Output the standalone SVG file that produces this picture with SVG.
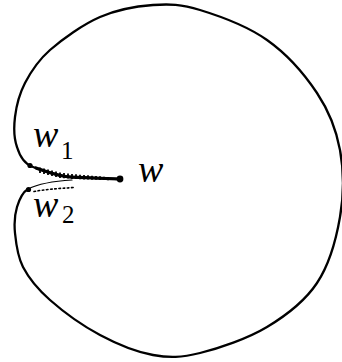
<svg xmlns="http://www.w3.org/2000/svg" width="342" height="362" viewBox="0 0 342 362">
<style>
.ln{fill:none;stroke:#000;stroke-linecap:round;stroke-linejoin:round}
.tick{fill:none;stroke:#000;stroke-width:1.8}
.lab{font-family:"Liberation Serif","DejaVu Serif",serif;font-style:italic;fill:#000}
.sub{font-family:"Liberation Serif","DejaVu Serif",serif;fill:#000}
</style>
<rect width="342" height="362" fill="#fff"/>
<g id="connectors">
<path class="ln" stroke-width="2.3" d="M120,179 L72,177.2 C58,176.5 45,171 33,167 C24,164 20,157 17,147 C14,138.7 13.7,127.7 15,117 C16.3,106.3 19.2,94.2 25,83 C30.8,71.8 37.5,61 50,50 C62.5,39 82.8,24.5 100,17 C117.2,9.5 136.3,6.2 153,5 C169.7,3.8 181,4.2 200,10 C219,15.8 247.5,26.2 267,40 C286.5,53.8 304.8,74.7 317,93 C329.2,111.3 336.2,129.3 340,150 C343.8,170.7 343.8,194.8 340,217 C336.2,239.2 329.2,264.7 317,283 C304.8,301.3 286.5,315.3 267,327 C247.5,338.7 219,348.3 200,353 C181,357.7 169.7,358 153,355 C136.3,352 117.2,344.2 100,335 C82.8,325.8 62.8,311.3 50,300 C37.2,288.7 28.8,278.2 23,267 C17.2,255.8 16,243 15,233 C14,223 14.8,214.2 17,207 C19.2,199.8 23,192 28,189"/>
<path class="ln" stroke-width="3.2" d="M118,179 L72,177.2 C58,176.5 45,171 36,168"/>
<path class="ln" stroke-width="1.2" d="M28,189 C40,183 55,181 72,180"/>
<path class="tick" d="M40,167.5v5.5M44,168.5v5.5M48,169.5v5.5M52,170.5v5.5M56,171.5v5.5M60,172.5v5.5M64,173v5.3M68,173.5v5M72,174v5M76,174.3v4.8M80,174.7v4.6M84,175v4.4M88,175.3v4.2M92,175.7v4M96,176v3.8M100,176.3v3.6M104,176.7v3.4M108,177v3.2"/>
<path class="ln" stroke-width="1.6" stroke-linecap="butt" stroke-dasharray="1.6 2.6" d="M34,191.5 C45,189.5 58,188.5 74,187.5"/>
<circle cx="30" cy="165.5" r="2.6" fill="#000"/>
<circle cx="28.5" cy="189.5" r="2.6" fill="#000"/>
</g>
<g id="node-w">
<circle cx="120" cy="179" r="3.4" fill="#000"/>
<text class="lab" x="138" y="182" font-size="38">w</text>
</g>
<g id="node-w1">
<text class="lab" x="33" y="147" font-size="38">w</text>
<text class="sub" x="61" y="159" font-size="25">1</text>
</g>
<g id="node-w2">
<text class="lab" x="33" y="217" font-size="38">w</text>
<text class="sub" x="62" y="223" font-size="25">2</text>
</g>
</svg>
